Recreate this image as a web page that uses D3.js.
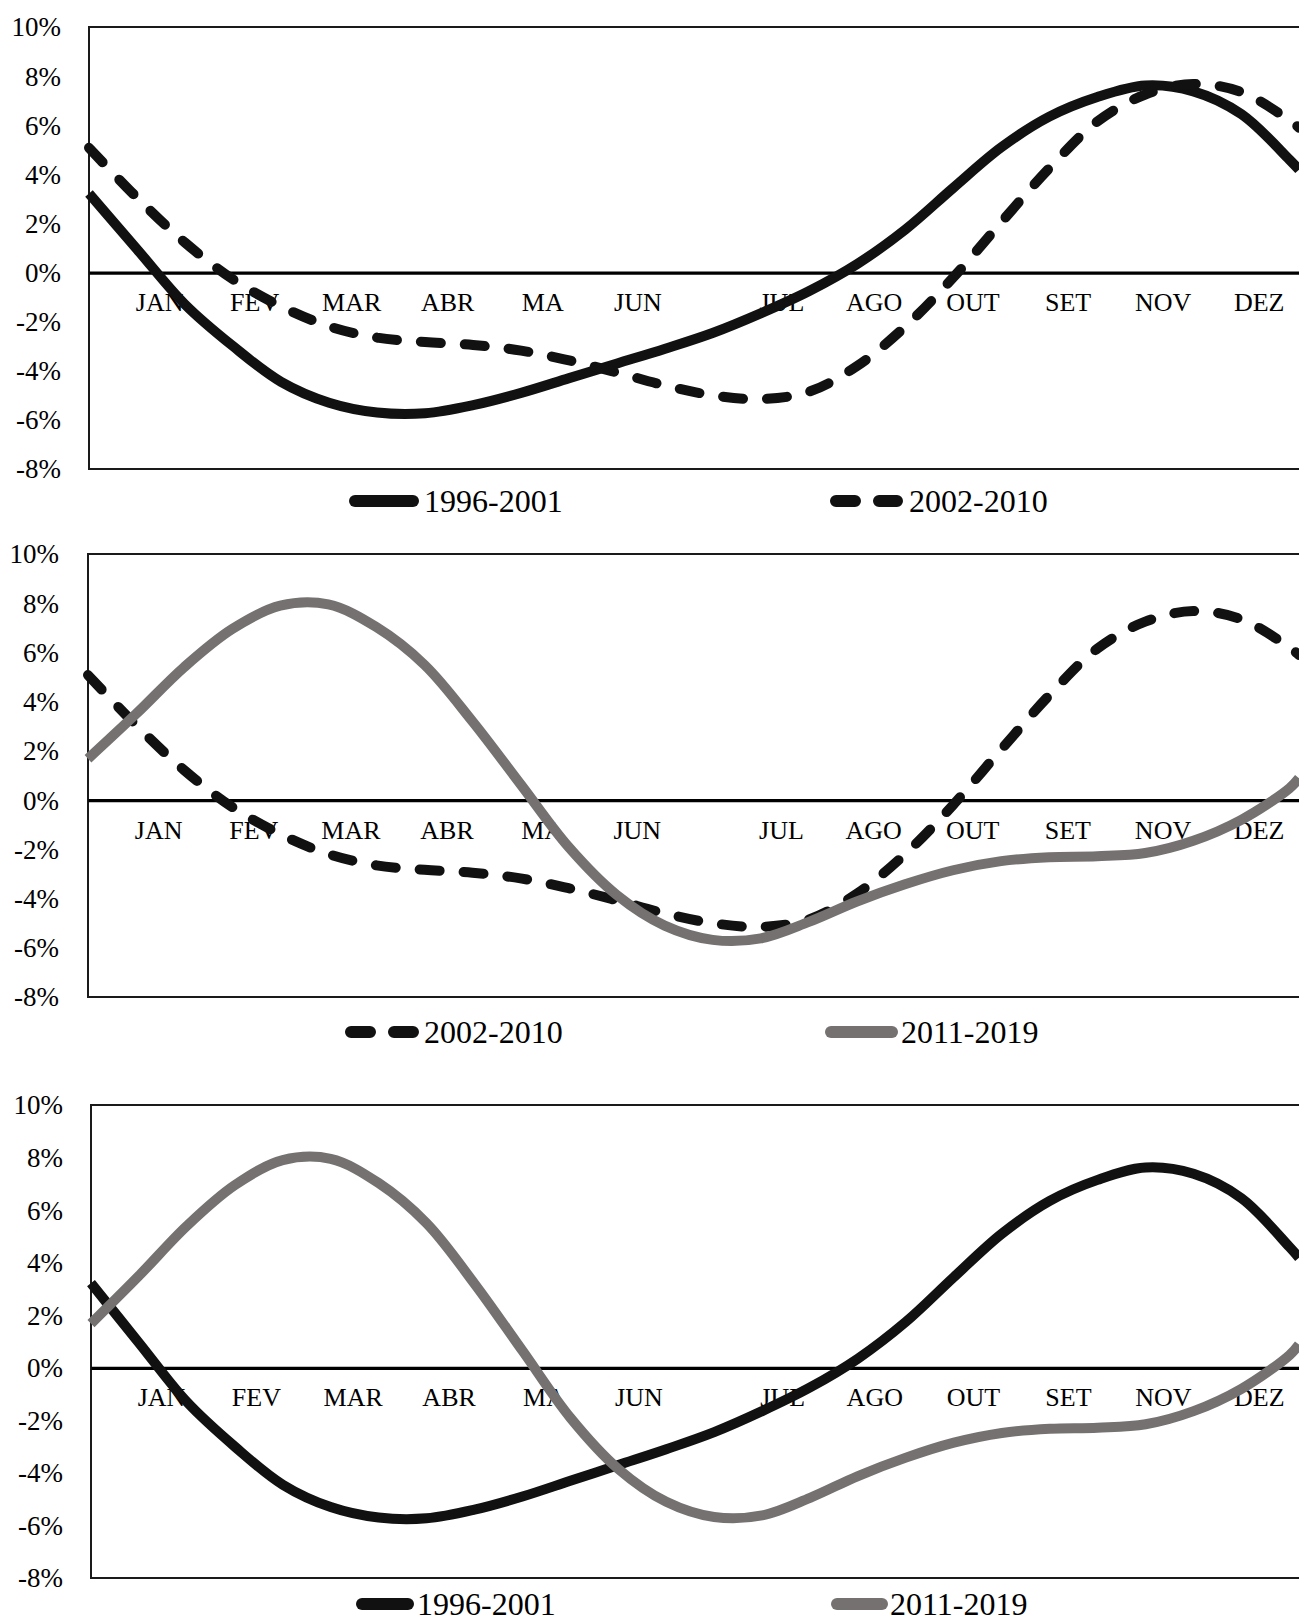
<!DOCTYPE html>
<html>
<head>
<meta charset="utf-8">
<script src="https://cdn.jsdelivr.net/npm/d3@7"></script>
<style>
  html, body { margin: 0; padding: 0; background: #fff; }
  svg { display: block; }
  text { font-family: "Liberation Serif", "Times New Roman", serif; fill: #000; }
</style>
</head>
<body>
<svg id="chart" width="1299" height="1623"></svg>
<script>
// ---- data ----
const months = ["JAN","FEV","MAR","ABR","MA","JUN","JUL","AGO","OUT","SET","NOV","DEZ"];
const monthPos = [0.73,1.72,2.73,3.73,4.72,5.71,7.21,8.17,9.2,10.19,11.18,12.18];
const yTicks = [-8,-6,-4,-2,0,2,4,6,8,10];
const t = [0,0.5,1,1.5,2,2.5,3,3.5,4,4.5,5,5.5,6,6.5,7,7.5,8,8.5,9,9.5,10,10.5,11,11.5,12,12.5,12.6];
const s1996 = [3.22,0.95,-1.3,-3.0,-4.45,-5.3,-5.7,-5.73,-5.4,-4.9,-4.3,-3.7,-3.1,-2.45,-1.65,-0.75,0.35,1.75,3.45,5.1,6.35,7.15,7.62,7.38,6.45,4.6,4.19];
const s2002 = [5.08,3.05,1.22,-0.28,-1.38,-2.19,-2.65,-2.83,-2.95,-3.18,-3.58,-4.07,-4.6,-5.0,-5.15,-4.85,-3.8,-2.2,-0.2,2.05,4.25,6.15,7.25,7.68,7.35,6.2,5.9];
const s2011 = [1.68,3.5,5.4,6.95,7.9,7.95,7.03,5.5,3.2,0.65,-1.9,-3.85,-5.1,-5.68,-5.62,-4.95,-4.12,-3.42,-2.85,-2.48,-2.32,-2.28,-2.15,-1.65,-0.8,0.48,0.89];

const seriesDefs = {
  "1996-2001": { values: s1996, color: "#111111", dash: null },
  "2002-2010": { values: s2002, color: "#111111", dash: "20,24" },
  "2011-2019": { values: s2011, color: "#767171", dash: null }
};

const panels = [
  { top: 27, bottom: 469, left: 89, labelX: 61, names: ["1996-2001","2002-2010"],
    legendY: 501, legend: [{x0:355,x1:413,tx:424},{x0:836,x1:897,tx:909}] },
  { top: 554, bottom: 997, left: 88, labelX: 59, names: ["2002-2010","2011-2019"],
    legendY: 1032, legend: [{x0:351,x1:414,tx:424},{x0:831,x1:892,tx:901}] },
  { top: 1105, bottom: 1578, left: 91, labelX: 63, names: ["1996-2001","2011-2019"],
    legendY: 1604, legend: [{x0:362,x1:408,tx:417},{x0:837,x1:882,tx:890}] }
];

const svg = d3.select("#chart");
const right = 1299;

panels.forEach(p => {
  const g = svg.append("g");
  const x = d3.scaleLinear().domain([0, 12.6]).range([p.left, right]);
  const y = d3.scaleLinear().domain([-8, 10]).range([p.bottom, p.top]);

  // frame (top, left, bottom)
  g.append("path")
    .attr("d", `M${right},${p.top}H${p.left}V${p.bottom}H${right}`)
    .attr("fill", "none").attr("stroke", "#1a1a1a").attr("stroke-width", 2);

  // y axis labels
  const yAxis = d3.axisLeft(y).tickValues(yTicks).tickSize(0).tickPadding(0)
    .tickFormat(d => d + "%");
  const ya = g.append("g").attr("transform", `translate(${p.labelX},0)`).call(yAxis);
  ya.select(".domain").remove();
  ya.selectAll("text").attr("font-size", 27).attr("font-family", "Liberation Serif")
    .attr("x", 0).attr("dy", "0.33em").attr("fill", "#000");

  // zero line axis with month labels
  const xAxis = d3.axisBottom(x).tickValues(monthPos).tickSize(0)
    .tickFormat((d, i) => months[i]);
  const xa = g.append("g").attr("transform", `translate(0,${y(0)})`).call(xAxis);
  xa.select(".domain").attr("stroke", "#000").attr("stroke-width", 3.2);
  xa.selectAll("text").attr("font-size", 26).attr("font-family", "Liberation Serif")
    .attr("y", 30).attr("dy", "0.33em").attr("fill", "#000");

  // series lines
  const line = d3.line()
    .x((d, i) => x(t[i]))
    .y(d => y(d))
    .curve(d3.curveCatmullRom.alpha(0.5));

  p.names.forEach(name => {
    const s = seriesDefs[name];
    const path = g.append("path")
      .datum(s.values)
      .attr("d", line)
      .attr("fill", "none")
      .attr("stroke", s.color)
      .attr("stroke-width", 10)
      .attr("stroke-linejoin", "round");
    if (s.dash) path.attr("stroke-dasharray", s.dash).attr("stroke-linecap", "round");
  });

  // legend
  p.names.forEach((name, i) => {
    const s = seriesDefs[name];
    const L = p.legend[i];
    const ln = g.append("line")
      .attr("x1", L.x0).attr("x2", L.x1)
      .attr("y1", p.legendY).attr("y2", p.legendY)
      .attr("stroke", s.color).attr("stroke-width", 12)
      .attr("stroke-linecap", "round");
    if (s.dash) ln.attr("stroke-dasharray", "19,24");
    g.append("text")
      .attr("x", L.tx).attr("y", p.legendY).attr("dy", "0.33em")
      .attr("font-size", 32)
      .text(name);
  });
});
</script>
</body>
</html>
